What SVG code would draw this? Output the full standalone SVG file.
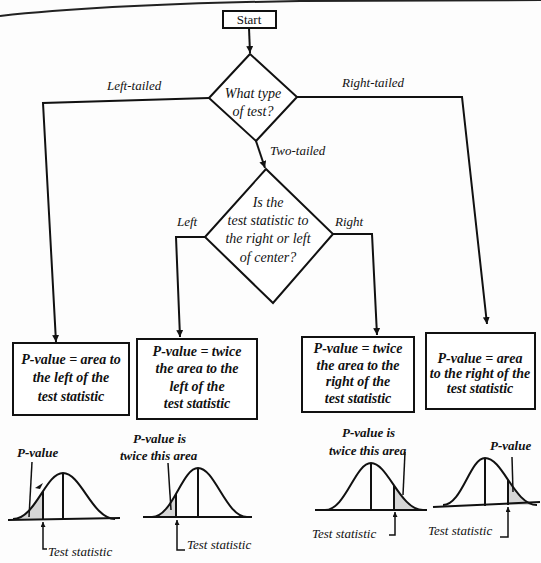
<svg xmlns="http://www.w3.org/2000/svg" xmlns:xlink="http://www.w3.org/1999/xlink" width="541" height="563" viewBox="0 0 541 563">
  <style>
    .edge { fill: none; stroke: #111; stroke-width: 2; }
    .box { fill: #fff; stroke: #111; stroke-width: 2; }
    .t { font-family: "Liberation Serif", "Times New Roman", serif; font-style: italic; font-size: 14px; fill: #111; text-anchor: middle; }
    .b { font-weight: bold; }
    .lbl { font-family: "Liberation Serif", "Times New Roman", serif; font-style: italic; font-size: 13px; fill: #111; }
    .curve { fill: none; stroke: #111; stroke-width: 2; }
    .axis { stroke: #111; stroke-width: 2; }
    .thin { stroke: #111; stroke-width: 1.5; fill: none; }
    .shade { fill: #d6d6d6; }
  </style>
  <defs>
    <marker id="arr" viewBox="0 0 10 10" refX="10" refY="5" markerWidth="7" markerHeight="7" markerUnits="userSpaceOnUse" orient="auto">
      <path d="M0,0 L10,5 L0,10 Z" fill="#111"/>
    </marker>
    <marker id="arrS" viewBox="0 0 10 10" refX="10" refY="5" markerWidth="5" markerHeight="5" markerUnits="userSpaceOnUse" orient="auto">
      <path d="M0,0 L10,5 L0,10 Z" fill="#111"/>
    </marker>
    <!-- normal curves, closed along their base lines -->
    <path id="b1" d="M13,519 C35.5,519 45.5,473 63,473 C81,473 92.5,519 115,519 Z"/>
    <path id="b2" d="M152,517 C172.7,517 182,468 198,468 C215,468 226,517 247,517 Z"/>
    <path id="b3" d="M325,510 C345.7,510 355,463 371,463 C388,463 400,510 423,510 Z"/>
    <path id="b4" d="M443,505 C462,505 470,458 485,458 C503,458 514,505 537,505 Z"/>
    <clipPath id="c1"><use xlink:href="#b1"/></clipPath>
    <clipPath id="c2"><use xlink:href="#b2"/></clipPath>
    <clipPath id="c3"><use xlink:href="#b3"/></clipPath>
    <clipPath id="c4"><use xlink:href="#b4"/></clipPath>
  </defs>

  <rect width="541" height="563" fill="#fdfdfd"/>
  <!-- page edge -->
  <path d="M0,16 Q110,4 300,1 L541,0" fill="none" stroke="#222" stroke-width="2"/>

  <g id="connectors">
    <path class="edge" d="M249,28 L250,53" marker-end="url(#arr)"/>
    <path class="edge" d="M209,98 L43,103 L56,342" marker-end="url(#arr)"/>
    <path class="edge" d="M297,97 L462,97 L487,324" marker-end="url(#arr)"/>
    <path class="edge" d="M256,141 L265,168" marker-end="url(#arr)"/>
    <path class="edge" d="M205,237 L176,237 L180,337" marker-end="url(#arr)"/>
    <path class="edge" d="M333,234 L372,234 L377,335" marker-end="url(#arr)"/>
    <text class="lbl" x="107" y="90">Left-tailed</text>
    <text class="lbl" x="342" y="87">Right-tailed</text>
    <text class="lbl" x="270" y="155">Two-tailed</text>
    <text class="lbl" x="177" y="226">Left</text>
    <text class="lbl" x="335" y="226">Right</text>
  </g>

  <g id="start">
    <rect class="box" x="223" y="11" width="53" height="17"/>
    <text x="249" y="24" font-family="Liberation Serif, serif" font-size="13" text-anchor="middle" fill="#111">Start</text>
  </g>

  <g id="test-type">
    <path class="box" d="M250,54 L297,97 L256,141 L209,98 Z"/>
    <text class="t" x="253" y="98" font-size="13">What type</text>
    <text class="t" x="253" y="116" font-size="13">of test?</text>
  </g>

  <g id="side">
    <path class="box" d="M266,169 L333,234 L273,303 L205,237 Z"/>
    <text class="t" x="268" y="207">Is the</text>
    <text class="t" x="268" y="225">test statistic to</text>
    <text class="t" x="268" y="243">the right or left</text>
    <text class="t" x="268" y="262">of center?</text>
  </g>

  <g id="left-tailed">
    <rect class="box" x="13" y="343" width="116" height="72"/>
    <text class="t b" x="71" y="364">P-value = area to</text>
    <text class="t b" x="71" y="382">the left of the</text>
    <text class="t b" x="71" y="401">test statistic</text>
  </g>

  <g id="two-tailed-left">
    <rect class="box" x="137" y="339" width="120" height="80"/>
    <text class="t b" x="197" y="356">P-value = twice</text>
    <text class="t b" x="197" y="373">the area to the</text>
    <text class="t b" x="197" y="391">left of the</text>
    <text class="t b" x="197" y="408">test statistic</text>
  </g>

  <g id="two-tailed-right">
    <rect class="box" x="302" y="337" width="112" height="75"/>
    <text class="t b" x="358" y="353">P-value = twice</text>
    <text class="t b" x="358" y="370">the area to the</text>
    <text class="t b" x="358" y="386">right of the</text>
    <text class="t b" x="358" y="403">test statistic</text>
  </g>

  <g id="right-tailed">
    <rect class="box" x="426" y="333" width="109" height="76"/>
    <text class="t b" x="480" y="363">P-value = area</text>
    <text class="t b" x="480" y="378">to the right of the</text>
    <text class="t b" x="480" y="393">test statistic</text>
  </g>

  <!-- left-tailed curve -->
  <g id="curve-left">
    <rect class="shade" x="0" y="440" width="43" height="100" clip-path="url(#c1)"/>
    <line class="axis" x1="43" y1="440" x2="43" y2="519" clip-path="url(#c1)"/>
    <line class="axis" x1="63" y1="473" x2="63" y2="519"/>
    <path class="curve" d="M13,519 C35.5,519 45.5,473 63,473 C81,473 92.5,519 115,519"/>
    <line class="axis" x1="8" y1="520" x2="120" y2="518"/>
    <text class="lbl b" x="17" y="457">P-value</text>
    <line class="thin" x1="32" y1="462" x2="29" y2="517"/>
    <path d="M35,488 L43,483 L40,489 Z" fill="#111"/>
    <path class="thin" d="M47,549 L43,549 L43,522" marker-end="url(#arrS)"/>
    <text class="lbl" x="48" y="556">Test statistic</text>
  </g>

  <!-- two-tailed curve, left side -->
  <g id="curve-two-left">
    <rect class="shade" x="140" y="440" width="36" height="100" clip-path="url(#c2)"/>
    <line class="axis" x1="176" y1="440" x2="176" y2="517" clip-path="url(#c2)"/>
    <line class="axis" x1="198" y1="468" x2="198" y2="517"/>
    <path class="curve" d="M152,517 C172.7,517 182,468 198,468 C215,468 226,517 247,517"/>
    <line class="axis" x1="143" y1="517" x2="252" y2="517"/>
    <text class="lbl b" x="133" y="443">P-value is</text>
    <text class="lbl b" x="120" y="460">twice this area</text>
    <line class="thin" x1="168" y1="463" x2="171" y2="510"/>
    <path class="thin" d="M185,550 L177,550 L177,520" marker-end="url(#arrS)"/>
    <text class="lbl" x="187" y="549">Test statistic</text>
  </g>

  <!-- two-tailed curve, right side -->
  <g id="curve-two-right">
    <rect class="shade" x="394" y="440" width="40" height="100" clip-path="url(#c3)"/>
    <line class="axis" x1="394" y1="440" x2="394" y2="510" clip-path="url(#c3)"/>
    <line class="axis" x1="371" y1="463" x2="371" y2="510"/>
    <path class="curve" d="M325,510 C345.7,510 355,463 371,463 C388,463 400,510 423,510"/>
    <line class="axis" x1="315" y1="510" x2="427" y2="510"/>
    <text class="lbl b" x="342" y="437">P-value is</text>
    <text class="lbl b" x="329" y="455">twice this area</text>
    <line class="thin" x1="405" y1="452" x2="403" y2="495"/>
    <path class="thin" d="M389,535 L395,535 L395,512" marker-end="url(#arrS)"/>
    <text class="lbl" x="312" y="538">Test statistic</text>
  </g>

  <!-- right-tailed curve -->
  <g id="curve-right">
    <rect class="shade" x="508" y="440" width="40" height="100" clip-path="url(#c4)"/>
    <line class="axis" x1="508" y1="440" x2="508" y2="505" clip-path="url(#c4)"/>
    <line class="axis" x1="485" y1="458" x2="485" y2="506"/>
    <path class="curve" d="M443,505 C462,505 470,458 485,458 C503,458 514,505 537,505"/>
    <line class="axis" x1="433" y1="507" x2="540" y2="502"/>
    <text class="lbl b" x="490" y="450">P-value</text>
    <line class="thin" x1="512" y1="457" x2="513" y2="492"/>
    <path class="thin" d="M500,537 L508,537 L508,507" marker-end="url(#arrS)"/>
    <text class="lbl" x="428" y="535">Test statistic</text>
  </g>
</svg>
